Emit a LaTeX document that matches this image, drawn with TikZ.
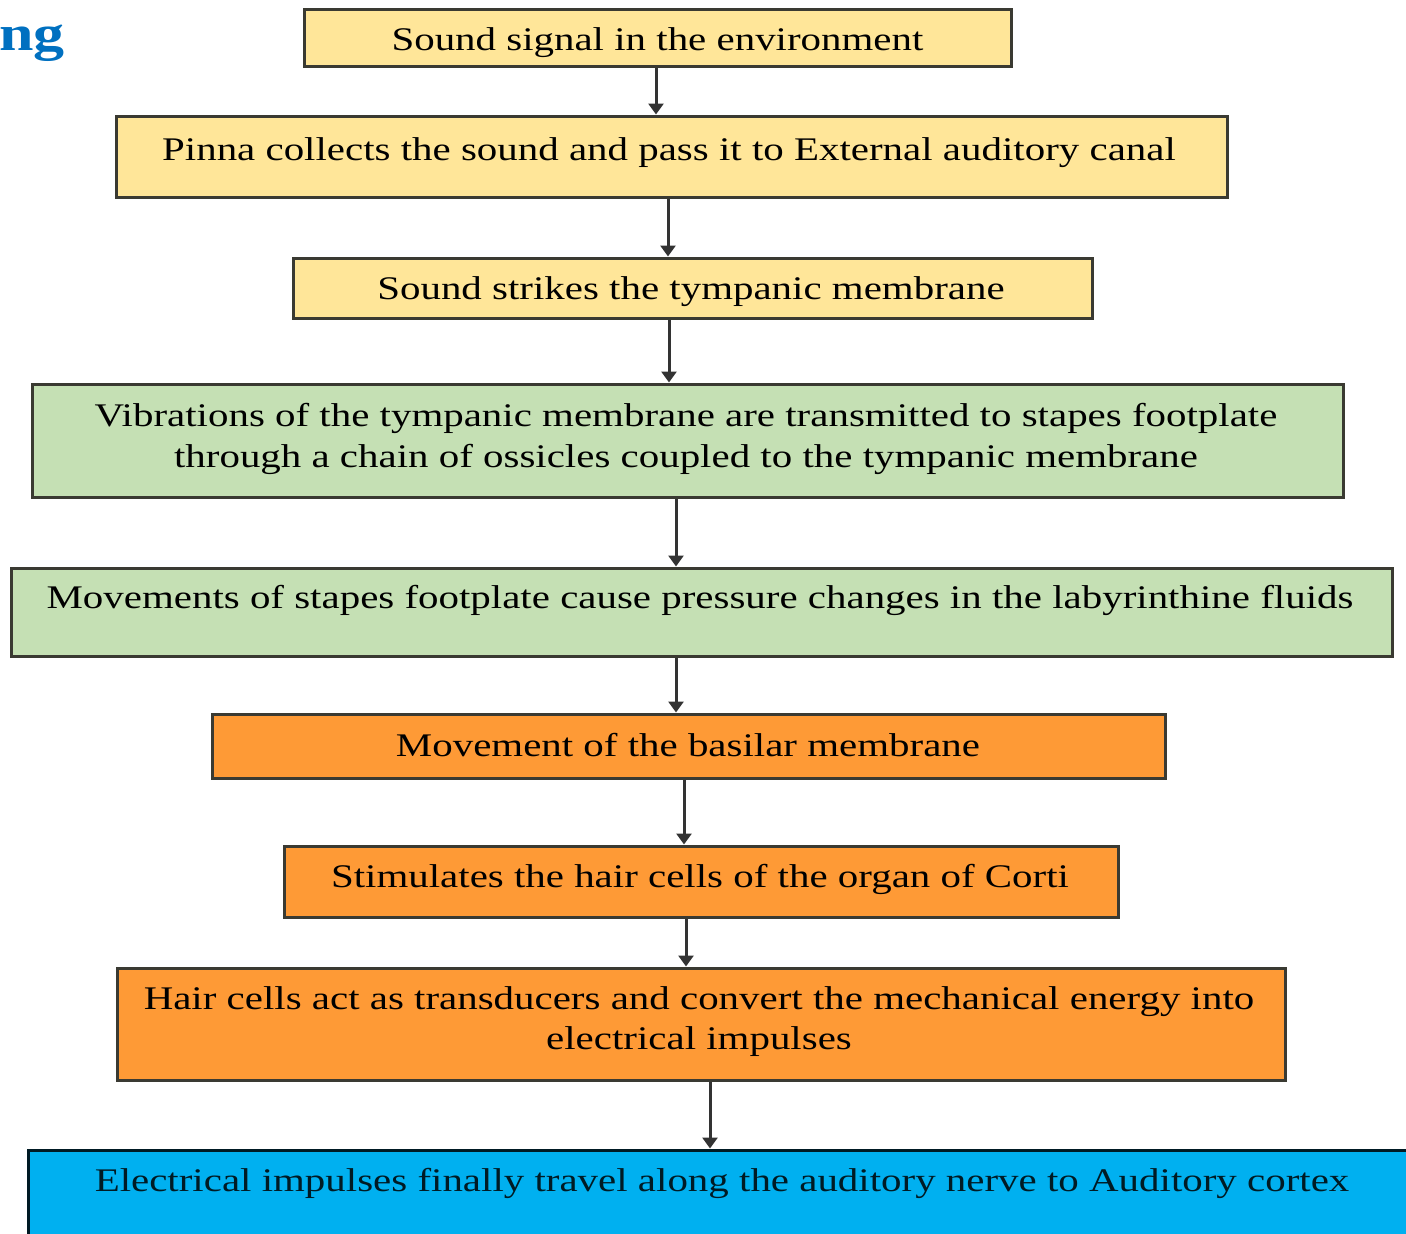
\documentclass[tikz,border=0pt]{standalone}
\usepackage{fontspec}
\setmainfont{Liberation Serif}[FakeStretch=1.24]
\usetikzlibrary{arrows.meta}
\definecolor{ylw}{HTML}{FFE699}
\definecolor{grn}{HTML}{C5E0B4}
\definecolor{org}{HTML}{FE9A36}
\definecolor{blu}{HTML}{00B0F0}
\definecolor{hdblue}{HTML}{0070C0}
\definecolor{edge}{HTML}{3A3A32}
\begin{document}
\begin{tikzpicture}[x=1pt,y=-1pt,
  box/.style={draw=edge, line width=3pt, rectangle, inner sep=0pt},
  txt/.style={anchor=base, inner sep=0pt, font=\fontsize{33}{41}\selectfont, align=center},
  arr/.style={draw=black!80, line width=3pt, -{Triangle[width=15pt,length=11pt]}}]
\useasboundingbox (0,0) rectangle (1406,1234);
\clip (0,0) rectangle (1406,1234);
% heading fragment
\node[anchor=base west, inner sep=0pt, text=hdblue, font=\fontsize{50}{55}\selectfont\bfseries] (hd) at (-1,50) {ng};
% boxes
\node[box, fill=ylw, minimum width=707pt, minimum height=57pt] (b1) at (657.5,37.5) {};
\node[box, fill=ylw, minimum width=1111pt, minimum height=81pt] (b2) at (671.5,156.5) {};
\node[box, fill=ylw, minimum width=799pt, minimum height=60pt] (b3) at (692.5,288) {};
\node[box, fill=grn, minimum width=1311pt, minimum height=113pt] (b4) at (687.5,440.5) {};
\node[box, fill=grn, minimum width=1381pt, minimum height=88pt] (b5) at (701.5,612) {};
\node[box, fill=org, minimum width=953pt, minimum height=64pt] (b6) at (688.5,746) {};
\node[box, fill=org, minimum width=834pt, minimum height=71pt] (b7) at (701,881.5) {};
\node[box, fill=org, minimum width=1168pt, minimum height=112pt] (b8) at (701,1024) {};
\node[box, fill=blu, draw=black!85!blu, minimum width=1400pt, minimum height=100pt] (b9) at (728,1200) {};
% texts
\node[txt] (t1) at (657.5,50) {Sound signal in the environment};
\node[txt] (t2) at (669,160) {Pinna collects the sound and pass it to External auditory canal};
\node[txt] (t3) at (691,299) {Sound strikes the tympanic membrane};
\node[txt] (t4a) at (686,426) {Vibrations of the tympanic membrane are transmitted to stapes footplate};
\node[txt] (t4b) at (686,467) {through a chain of ossicles coupled to the tympanic membrane};
\node[txt] (t5) at (700,608) {Movements of stapes footplate cause pressure changes in the labyrinthine fluids};
\node[txt] (t6) at (688,756) {Movement of the basilar membrane};
\node[txt] (t7) at (700,887) {Stimulates the hair cells of the organ of Corti};
\node[txt] (t8a) at (699,1009) {Hair cells act as transducers and convert the mechanical energy into};
\node[txt] (t8b) at (699,1049) {electrical impulses};
\node[txt, text=black!85!blu] (t9) at (722,1191) {Electrical impulses finally travel along the auditory nerve to Auditory cortex};
% arrow columns
\coordinate (a1) at (656,0);
\coordinate (a2) at (668,0);
\coordinate (a3) at (669,0);
\coordinate (a4) at (676,0);
\coordinate (a5) at (676,0);
\coordinate (a6) at (684,0);
\coordinate (a7) at (686,0);
\coordinate (a8) at (710,0);
\draw[arr] (b1.south -| a1) -- (b2.north -| a1);
\draw[arr] (b2.south -| a2) -- (b3.north -| a2);
\draw[arr] (b3.south -| a3) -- (b4.north -| a3);
\draw[arr] (b4.south -| a4) -- (b5.north -| a4);
\draw[arr] (b5.south -| a5) -- (b6.north -| a5);
\draw[arr] (b6.south -| a6) -- (b7.north -| a6);
\draw[arr] (b7.south -| a7) -- (b8.north -| a7);
\draw[arr] (b8.south -| a8) -- (b9.north -| a8);
\end{tikzpicture}
\end{document}
